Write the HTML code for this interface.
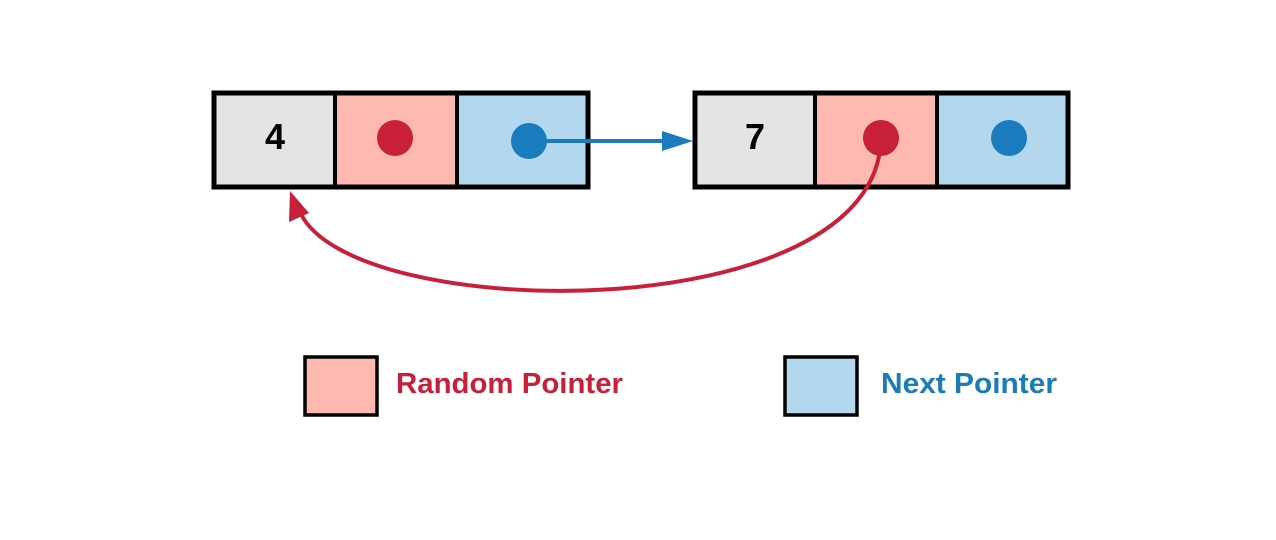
<!DOCTYPE html>
<html><head><meta charset="utf-8"><style>
html,body{margin:0;padding:0;background:#fff;width:1276px;height:540px;overflow:hidden}
svg{display:block;font-family:"Liberation Sans",Arial,sans-serif}
</style></head><body>
<svg width="1276" height="540" viewBox="0 0 1276 540">
<g>
<rect x="216" y="95" width="119" height="90" fill="#e4e4e4"/>
<rect x="335" y="95" width="122" height="90" fill="#fdb9b0"/>
<rect x="457" y="95" width="131" height="90" fill="#b3d7ee"/>
<rect x="214" y="93" width="374" height="94" fill="none" stroke="#000" stroke-width="5"/>
<line x1="335" y1="93" x2="335" y2="187" stroke="#000" stroke-width="4"/>
<line x1="457" y1="93" x2="457" y2="187" stroke="#000" stroke-width="4"/>
<text x="275" y="149" font-size="36" font-weight="bold" text-anchor="middle">4</text>
<circle cx="395" cy="138" r="18" fill="#c8203a"/>
<circle cx="529" cy="141" r="18" fill="#1a7bbd"/>
</g>
<g>
<rect x="697" y="95" width="118" height="90" fill="#e4e4e4"/>
<rect x="815" y="95" width="122" height="90" fill="#fdb9b0"/>
<rect x="937" y="95" width="131" height="90" fill="#b3d7ee"/>
<rect x="695" y="93" width="373" height="94" fill="none" stroke="#000" stroke-width="5"/>
<line x1="815" y1="93" x2="815" y2="187" stroke="#000" stroke-width="4"/>
<line x1="937" y1="93" x2="937" y2="187" stroke="#000" stroke-width="4"/>
<text x="755" y="149" font-size="36" font-weight="bold" text-anchor="middle">7</text>
<circle cx="881" cy="138" r="18" fill="#c8203a"/>
<circle cx="1009" cy="138" r="18" fill="#1a7bbd"/>
</g>
<g>
<line x1="529" y1="141" x2="665" y2="141" stroke="#1a7bbd" stroke-width="4"/>
<polygon points="662,131 693,141 662,151" fill="#1a7bbd"/>
</g>
<g>
<path d="M881,138 C878,330 350,325 300,212" fill="none" stroke="#c8203a" stroke-width="4"/>
<polygon points="290,191 289,222 309,213" fill="#c8203a"/>
</g>
<g>
<rect x="305" y="357" width="72" height="58" fill="#fdb9b0" stroke="#000" stroke-width="3.5"/>
<text x="396" y="393" font-size="29" font-weight="bold" fill="#c8203a" textLength="227" lengthAdjust="spacingAndGlyphs">Random Pointer</text>
</g>
<g>
<rect x="785" y="357" width="72" height="58" fill="#b3d7ee" stroke="#000" stroke-width="3.5"/>
<text x="881" y="393" font-size="29" font-weight="bold" fill="#1a7bbd" textLength="176" lengthAdjust="spacingAndGlyphs">Next Pointer</text>
</g>
</svg>
</body></html>
